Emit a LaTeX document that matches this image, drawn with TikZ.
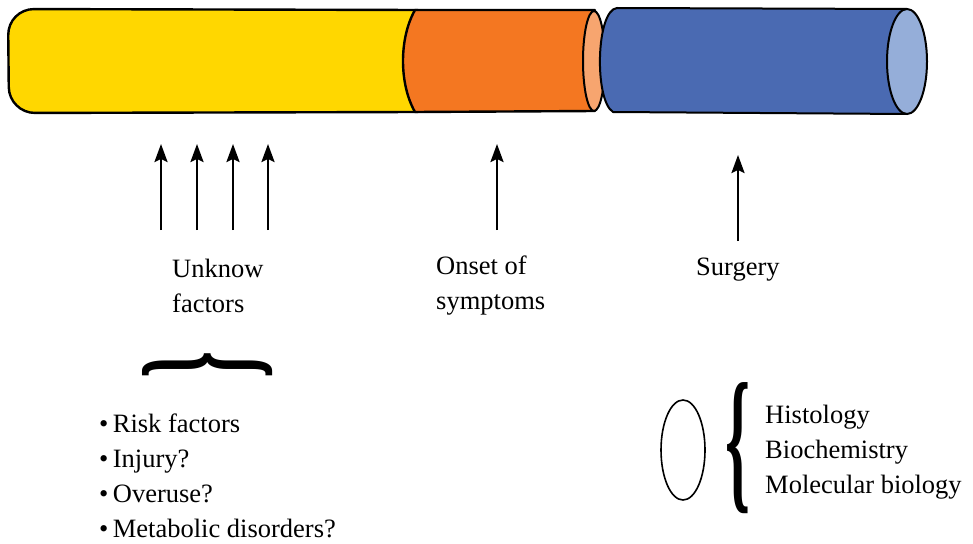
\documentclass[tikz,border=0pt]{standalone}
\usepackage{fontspec}
\usepackage{graphicx}
\setmainfont{Liberation Serif}
\usetikzlibrary{arrows.meta,shapes.geometric}
\definecolor{cyl1}{HTML}{FFD700}
\definecolor{cyl2}{HTML}{F47721}
\definecolor{cyl2face}{HTML}{F7A56F}
\definecolor{cyl3}{HTML}{4A6AB2}
\definecolor{cyl3face}{HTML}{95AED9}
\tikzset{
  seg/.style={draw=black,line width=2.4pt,line join=round},
  up/.style={-{Stealth[length=18pt,width=13pt,inset=3pt]},line width=2.4pt},
  lbl/.style={font=\fontsize{26.5}{35}\selectfont,align=left,anchor=west,inner sep=0pt},
  glyph/.style={inner sep=0pt,outer sep=0pt,font=\bfseries}
}
\begin{document}
\begin{tikzpicture}[x=1pt,y=-1pt]
\useasboundingbox (0,0) rectangle (973,543);
% yellow
\draw[seg,fill=cyl1,rounded corners=26pt] (418,10) -- (8,9) -- (9,113) -- (418,112);
% orange
\draw[seg,fill=cyl2] (415,10) .. controls (399,38) and (399,84) .. (415,112) -- (595,111) -- (595,10) -- cycle;
\draw[seg,line width=2pt,fill=cyl2face] (594,61) ellipse [x radius=11pt,y radius=50pt];
% blue
\draw[seg,line width=2pt,fill=cyl3] (907,9) -- (617,8) .. controls (596,10) and (594,100) .. (613,112) -- (907,114) -- cycle;
\draw[seg,line width=2pt,fill=cyl3face] (907,61.5) ellipse [x radius=20pt,y radius=52.5pt];
% arrows
\coordinate (b1) at (161,230); \coordinate (t1) at (161,144);
\coordinate (b2) at (197,230); \coordinate (t2) at (197,144);
\coordinate (b3) at (233,230); \coordinate (t3) at (233,144);
\coordinate (b4) at (268,230); \coordinate (t4) at (268,144);
\coordinate (b5) at (497,230); \coordinate (t5) at (497,144);
\coordinate (b6) at (738,241); \coordinate (t6) at (738,155);
\foreach \i in {1,...,6}{\draw[up] (b\i) -- (t\i);}
\node[lbl] (unk) at (172,286) {Unknow\\factors};
\node[lbl] (ons) at (436,286) {Onset of\\symptoms};
\node[lbl] (sur) at (696,270) {Surgery};
\node[glyph] (hbrace) at (207.5,365) {\rotatebox{-90}{\resizebox*{27pt}{130pt}{\{}}};
\node[lbl] (list) at (99,476) {\textbullet\,Risk factors\\\textbullet\,Injury?\\\textbullet\,Overuse?\\\textbullet\,Metabolic disorders?};
\node[draw,line width=1.6pt,ellipse,minimum width=44pt,minimum height=100pt,inner sep=0pt] (ell) at (683,450) {};
\node[glyph] (vbrace) at (738,448) {\resizebox*{25pt}{131pt}{\{}};
\node[lbl] (anal) at (765,452) {Histology\\Biochemistry\\Molecular biology};
\end{tikzpicture}
\end{document}
